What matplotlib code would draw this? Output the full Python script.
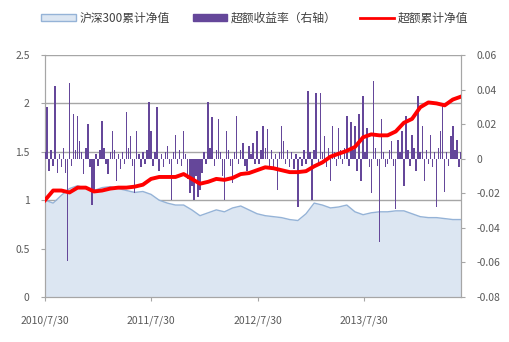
import matplotlib
matplotlib.use("Agg")
import matplotlib.pyplot as plt
import numpy as np
import pandas as pd
from matplotlib.patches import Patch
from matplotlib.lines import Line2D

plt.rcParams['font.family'] = ['Noto Sans CJK SC', 'DejaVu Sans']

# ---------------- data ----------------
series_names = ["沪深300累计净值", "超额收益率（右轴）", "超额累计净值"]
tick_labels = ["2010/7/30", "2011/7/30", "2012/7/30", "2013/7/30"]
start_date = "2010-07-30"

# weekly excess return (right axis)
excess_ret = [
    0.004, 0.030, -0.007, 0.005, -0.004, 0.042, -0.008, 0.003, -0.005, 0.006,
    -0.008, -0.059, 0.044, -0.004, 0.026, 0.005, 0.025, 0.010, 0.004, -0.009,
    0.006, 0.020, -0.005, -0.027, -0.020, 0.003, -0.004, 0.005, 0.022, 0.006,
    -0.003, -0.009, 0.004, 0.016, 0.005, -0.013, 0.003, -0.006, 0.004, -0.003,
    0.027, 0.006, 0.013, -0.004, -0.020, 0.016, 0.003, -0.005, 0.004, -0.003,
    0.005, 0.033, 0.016, -0.004, 0.004, 0.030, -0.007, 0.003, -0.005, 0.004,
    0.0075, -0.003, -0.024, 0.004, 0.014, -0.003, 0.005, -0.004, 0.016, 0.003,
    -0.012, -0.020, -0.016, -0.024, -0.010, -0.022, -0.018, -0.008, 0.004, -0.003,
    0.033, 0.006, 0.024, -0.004, 0.005, 0.023, 0.004, -0.010, -0.024, 0.016,
    0.005, -0.004, -0.014, 0.004, 0.025, -0.003, 0.005, 0.009, -0.004, -0.007,
    0.0075, 0.003, 0.009, -0.003, 0.016, -0.003, 0.005, 0.019, 0.006, 0.017,
    -0.004, 0.005, -0.006, 0.003, -0.018, 0.004, 0.019, 0.010, -0.003, 0.005,
    -0.005, 0.004, -0.006, 0.003, -0.028, 0.001, -0.004, 0.005, -0.003, 0.039,
    0.004, -0.024, 0.005, 0.038, -0.003, 0.038, 0.004, 0.013, -0.005, 0.006,
    -0.013, 0.019, 0.004, -0.004, 0.018, 0.005, -0.003, 0.006, 0.025, -0.004,
    0.021, 0.005, 0.019, -0.007, 0.026, -0.013, 0.036, 0.004, 0.018, -0.005,
    -0.020, 0.045, 0.006, -0.004, -0.048, 0.023, 0.004, -0.005, -0.003, 0.005,
    0.010, -0.004, -0.029, 0.011, 0.004, 0.016, -0.016, 0.025, 0.005, -0.004,
    0.014, 0.006, -0.007, 0.036, 0.004, 0.019, -0.013, 0.005, -0.003, 0.014,
    -0.005, 0.004, -0.028, 0.006, 0.016, 0.031, -0.019, 0.004, -0.004, 0.013,
    0.019, 0.005, 0.011, -0.005, 0.004,
]

# every 4 weeks: CSI300 cumulative NAV (left axis)
hs300_nav = [
    1.00, 0.97, 1.05, 1.12, 1.15, 1.12, 1.10, 1.13, 1.14, 1.12,
    1.10, 1.08, 1.09, 1.06, 1.00, 0.97, 0.95, 0.95, 0.90, 0.84,
    0.87, 0.90, 0.88, 0.92, 0.94, 0.90, 0.86, 0.84, 0.83, 0.82,
    0.80, 0.79, 0.86, 0.97, 0.95, 0.92, 0.93, 0.95, 0.88, 0.85,
    0.87, 0.88, 0.88, 0.89, 0.89, 0.86, 0.83, 0.82, 0.82, 0.81,
    0.80, 0.80,
]

# every 4 weeks: excess cumulative NAV (left axis)
excess_nav = [
    1.00, 1.10, 1.10, 1.08, 1.13, 1.13, 1.09, 1.10, 1.12, 1.13,
    1.13, 1.14, 1.16, 1.22, 1.24, 1.24, 1.24, 1.27, 1.22, 1.17,
    1.19, 1.22, 1.21, 1.23, 1.27, 1.28, 1.31, 1.34, 1.33, 1.31,
    1.29, 1.29, 1.30, 1.35, 1.39, 1.45, 1.48, 1.51, 1.55, 1.65,
    1.68, 1.67, 1.67, 1.71, 1.80, 1.84, 1.96, 2.01, 2.00, 1.98,
    2.04, 2.07,
]

bar_dates = pd.date_range(start_date, periods=len(excess_ret), freq="7D")
line_dates = pd.date_range(start_date, periods=len(excess_nav), freq="28D")
tick_dates = pd.to_datetime(tick_labels, format="%Y/%m/%d")

# ---------------- plot ----------------
W, H, DPI = 510, 342, 100
fig = plt.figure(figsize=(W / DPI, H / DPI), dpi=DPI)
ax = fig.add_axes([45 / W, 1 - 297 / H, (461 - 45) / W, (297 - 55) / H])
ax2 = ax.twinx()
ax3 = ax.twinx()

grey = "#A6A6A6"
txt = "#595959"

# area (left axis)
ax.fill_between(line_dates, 0, hs300_nav, color="#DCE6F2", zorder=2, lw=0)
ax.plot(line_dates, hs300_nav, color="#95B3D7", lw=1.0, zorder=3)
ax.set_ylim(0, 2.5)
ax.set_yticks(np.arange(0, 2.51, 0.5))
ax.set_yticklabels(["0", "0.5", "1", "1.5", "2", "2.5"])
ax.yaxis.grid(True, color=grey, lw=1.0, zorder=0)
ax.set_axisbelow(True)

# bars (right axis)
ax2.bar(bar_dates, excess_ret, width=5.0, color="#65479A", lw=0, zorder=3)
ax2.set_ylim(-0.08, 0.06)
ax2.set_yticks(np.arange(-0.08, 0.061, 0.02))
ax2.set_yticklabels(["-0.08", "-0.06", "-0.04", "-0.02", "0", "0.02", "0.04", "0.06"])

# red line (left scale, drawn on top)
ax3.plot(line_dates, excess_nav, color="#FF0000", lw=2.8, zorder=4)
ax3.set_ylim(0, 2.5)
ax3.set_yticks([])
for s in ax3.spines.values():
    s.set_visible(False)

ax.set_xlim(bar_dates[0], bar_dates[-1])
ax.set_xticks(tick_dates)
ax.set_xticklabels(tick_labels)

for a in (ax, ax2):
    a.tick_params(axis="both", colors=grey, labelcolor=txt, labelsize=7.5,
                  length=3, width=0.8)
    a.spines["top"].set_visible(False)
    for side in ("left", "right", "bottom"):
        a.spines[side].set_color(grey)
ax.tick_params(axis="x", pad=10)
ax.tick_params(axis="y", pad=8)
ax2.tick_params(axis="y", pad=8)

handles = [
    Patch(facecolor="#DCE6F2", edgecolor="#95B3D7", lw=1.0),
    Patch(facecolor="#65479A", edgecolor="#65479A"),
    Line2D([0], [0], color="#FF0000", lw=2),
]
fig.legend(handles, series_names, loc="center", bbox_to_anchor=(0.5, 1 - 18 / H),
           ncol=3, frameon=False, fontsize=8.5, handlelength=2.9, handleheight=0.6,
           columnspacing=2.0, handletextpad=0.3, labelcolor="#404040")

fig.savefig("out.png", dpi=DPI)
